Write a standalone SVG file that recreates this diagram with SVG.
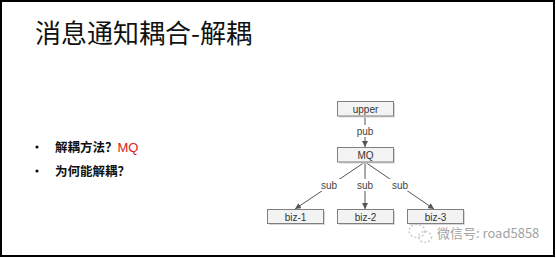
<svg xmlns="http://www.w3.org/2000/svg" width="556" height="258" viewBox="0 0 556 258">
<style>
.box{fill:#f3f3f3;stroke:#808080;stroke-width:1}
.shadow{fill:#d8d8d8}
.bt{font-family:"Liberation Sans",Arial,sans-serif;font-size:10px;fill:#333;text-anchor:middle}
.lbl{font-family:"Liberation Sans",Arial,sans-serif;font-size:10px;fill:#444;text-anchor:middle}
.edge{stroke:#555;stroke-width:1;fill:none;marker-end:url(#ah)}
.cjk{font-family:"Noto Sans CJK SC","Liberation Sans",sans-serif}
</style>
<defs>
<marker id="ah" viewBox="0 0 10 10" refX="10" refY="5" markerWidth="6" markerHeight="6" orient="auto" markerUnits="userSpaceOnUse">
<path d="M0,0 L10,5 L0,10 z" fill="#555"/>
</marker>
</defs>
<rect x="0" y="0" width="556" height="258" fill="#fff"/>
<rect x="1" y="1" width="553" height="255" fill="none" stroke="#000" stroke-width="2"/>
<g id="title">
<text x="35" y="43" class="cjk" font-size="26" fill="#111">消息通知耦合-解耦</text>
</g>
<g id="bullets">
<circle cx="37" cy="147" r="1.6" fill="#111"/>
<text x="55" y="152" class="cjk" font-size="12.5" font-weight="bold" fill="#111">解耦方法？<tspan font-family="Liberation Sans,Arial,sans-serif" font-weight="normal" font-size="13" fill="#e02020">MQ</tspan></text>
<circle cx="37" cy="171" r="1.6" fill="#111"/>
<text x="55" y="176" class="cjk" font-size="12.5" font-weight="bold" fill="#111">为何能解耦？</text>
</g>
<g id="connectors">
<line class="edge" x1="365" y1="116" x2="365" y2="147"/>
<line class="edge" x1="365" y1="162" x2="295" y2="209"/>
<line class="edge" x1="365" y1="162" x2="365" y2="209"/>
<line class="edge" x1="365" y1="162" x2="434" y2="209"/>
<rect x="355" y="125" width="20" height="12" fill="#fff"/>
<text class="lbl" x="365" y="135">pub</text>
<rect x="318" y="179" width="22" height="12" fill="#fff"/>
<text class="lbl" x="329" y="189">sub</text>
<rect x="354" y="179" width="22" height="12" fill="#fff"/>
<text class="lbl" x="365" y="189">sub</text>
<rect x="389" y="179" width="22" height="12" fill="#fff"/>
<text class="lbl" x="400" y="189">sub</text>
</g>
<g id="upper">
<rect class="shadow" x="339" y="103" width="56" height="14.5"/>
<rect class="box" x="337.5" y="101.5" width="56" height="14.5"/>
<text class="bt" x="365.5" y="112.5">upper</text>
</g>
<g id="mq">
<rect class="shadow" x="339" y="149" width="56" height="14.5"/>
<rect class="box" x="337.5" y="147.5" width="56" height="14.5"/>
<text class="bt" x="365.5" y="158.5">MQ</text>
</g>
<g id="biz1">
<rect class="shadow" x="269" y="211" width="56" height="14"/>
<rect class="box" x="267.5" y="209.5" width="56" height="14"/>
<text class="bt" x="295.5" y="220.5">biz-1</text>
</g>
<g id="biz2">
<rect class="shadow" x="339" y="211" width="56" height="14"/>
<rect class="box" x="337.5" y="209.5" width="56" height="14"/>
<text class="bt" x="365.5" y="220.5">biz-2</text>
</g>
<g id="biz3">
<rect class="shadow" x="409" y="211" width="56" height="14"/>
<rect class="box" x="407.5" y="209.5" width="56" height="14"/>
<text class="bt" x="435.5" y="220.5">biz-3</text>
</g>
<g id="watermark" opacity="0.9">
<g fill="none" stroke="#c8c8c8" stroke-width="1.5" stroke-dasharray="2 2">
<ellipse cx="417" cy="231" rx="8" ry="6.5"/>
<ellipse cx="425" cy="237" rx="6.5" ry="5.5"/>
</g>
<text x="437" y="238" class="cjk" font-size="13" fill="#9a9a9a">微信号: road5858</text>
</g>
</svg>
